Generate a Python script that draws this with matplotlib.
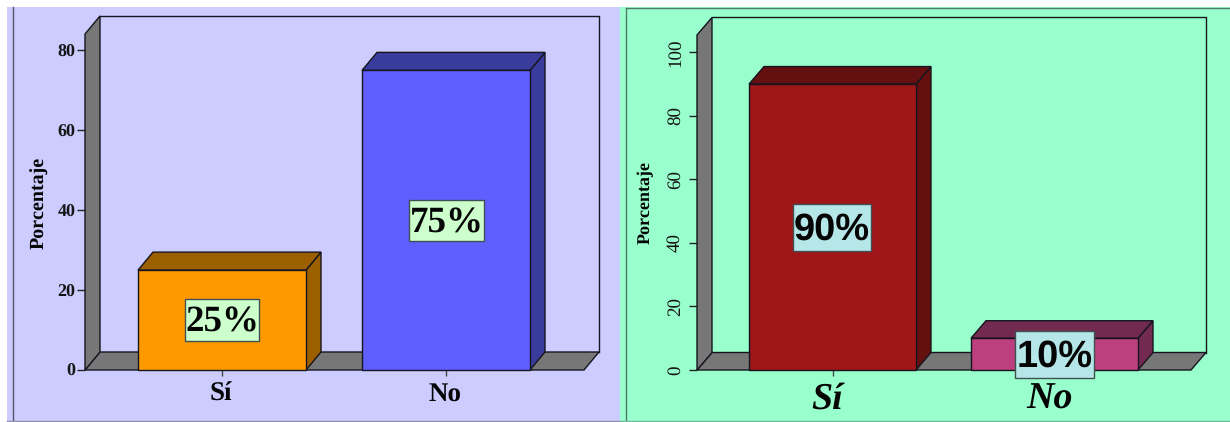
import matplotlib
matplotlib.use("Agg")
import matplotlib.pyplot as plt
from matplotlib.patches import Polygon, Rectangle
from matplotlib.lines import Line2D

plt.rcParams["text.hinting"] = "no_hinting"
plt.rcParams["text.hinting_factor"] = 1

categories = ["Sí", "No"]
left_values = [25, 75]
right_values = [90, 10]
left_labels = ["25%", "75%"]
right_labels = ["90%", "10%"]
left_ticks = [0, 20, 40, 60, 80]
right_ticks = [0, 20, 40, 60, 80, 100]
y_title = "Porcentaje"

W, H = 1230, 422
fig = plt.figure(figsize=(W / 100, H / 100), dpi=100, facecolor="white")


def fx(p):
    return p / W


def fy(p):
    return 1 - p / H


def panel(x0, x1, y0, y1, color):
    fig.add_artist(Rectangle((fx(x0), fy(y1)), fx(x1 - x0), y1 / H - y0 / H,
                             transform=fig.transFigure, fc=color, ec="none", zorder=-5))


def fline(xs, ys, color="#5f6f70", lw=1.0):
    fig.add_artist(Line2D([fx(v) for v in xs], [fy(v) for v in ys],
                          color=color, lw=lw, zorder=-4))


panel(7, 620, 7, 422, "#CCCCFF")
panel(620, 1230, 7, 422, "#99FFCC")
fline([13, 13], [7, 422], "#55556a")
fline([7, 620], [421, 421], "#8f8fb0")
fline([626, 626], [8, 422], "#4f7a66")
fline([626, 1230], [8, 8], "#4f7a66")
fline([620, 1230], [421, 421], "#6fb89a")


def chart(px_left, px_right, px_base, px_top, unit_px, spacing, center0, depth_x, depth_y,
          values, labels, ticks, colors, bar_px, box_size, box_color, label_font, tick_kw, xlab_kw,
          title_kw, title_x, xlab_y, xlab_shift, box_centers, tick_pad):
    ax = fig.add_axes([fx(px_left), fy(px_base), fx(px_right - px_left), (px_base - px_top) / H])
    ax.patch.set_alpha(0)
    ax.set_xlim((px_left - center0) / spacing, (px_right - center0) / spacing)
    ax.set_ylim(0, (px_base - px_top) / unit_px)
    x0, x1 = ax.get_xlim()
    ytop = ax.get_ylim()[1]
    dx = depth_x / spacing
    dy = depth_y / unit_px
    edge = "#15151f"
    kw = dict(ec=edge, lw=1.0, clip_on=False, joinstyle="miter")
    ax.add_patch(Polygon([(x0, 0), (x0 + dx, dy), (x1 + dx, dy), (x1, 0)], fc="#777777", zorder=1, **kw))
    ax.add_patch(Polygon([(x0, 0), (x0, ytop), (x0 + dx, ytop + dy), (x0 + dx, dy)], fc="#777777", zorder=1, **kw))
    ax.plot([x0 + dx, x1 + dx, x1 + dx], [ytop + dy, ytop + dy, dy], color=edge, lw=1.0, clip_on=False, zorder=1)
    bw = bar_px / spacing
    for i, v in enumerate(values):
        f, d = colors[i]
        l, r = i - bw / 2, i + bw / 2
        ax.add_patch(Polygon([(r, 0), (r + dx, dy), (r + dx, v + dy), (r, v)], fc=d, zorder=2, **kw))
        ax.add_patch(Polygon([(l, v), (l + dx, v + dy), (r + dx, v + dy), (r, v)], fc=d, zorder=2, **kw))
        ax.add_patch(Rectangle((l, 0), bw, v, fc=f, zorder=3, **kw))
    for i, v in enumerate(values):
        cx = i + box_centers[i] / spacing
        bwid, bh = box_size[i]
        bwid /= spacing
        bh /= unit_px
        ax.add_patch(Rectangle((cx - bwid / 2, v / 2 - bh / 2), bwid, bh, fc=box_color,
                               ec="#405050", lw=1.0, clip_on=False, zorder=4))
        ax.text(cx, v / 2 + 1.0 / unit_px, labels[i], ha="center", va="center_baseline", color="#050505",
                zorder=5, **label_font)
    for s in ax.spines.values():
        s.set_visible(False)
    ax.set_yticks(ticks)
    ax.set_xticks([0, 1])
    ax.set_xticklabels([])
    ax.tick_params(axis="y", length=5.5, width=1, color="#222222", pad=tick_pad)
    ax.tick_params(axis="x", length=4, width=1, color="#444444")
    for t in ax.get_yticklabels():
        t.set(**tick_kw)
    for i, c in enumerate(categories):
        fig.text(fx(center0 + i * spacing + xlab_shift), fy(xlab_y), c, ha="center", va="center",
                 color="#050505", **xlab_kw)
    fig.text(fx(title_x), fy(203), y_title, rotation=90, ha="center", va="center", color="#050505", **title_kw)


chart(85, 584, 370, 34, 3.995, 224, 222, 15, 18, left_values, left_labels, left_ticks,
      [("#FF9900", "#9C5F00"), ("#5F5FFF", "#393C9C")], 168,
      [(74, 42), (75, 41)], "#CCFFCC",
      dict(family="Liberation Serif", fontweight="bold", fontsize=26.8),
      dict(family="Liberation Serif", fontsize=12.8, fontweight="bold", color="#151515"),
      dict(family="Liberation Serif", fontweight="bold", fontsize=19.5),
      dict(family="Liberation Serif", fontweight="bold", fontsize=14.7),
      39.5, 394, -1, [0, 0.5], 1.5)

chart(697, 1191, 370, 35, 3.177, 222, 832.5, 15, 17.5, right_values, right_labels, right_ticks,
      [("#A01518", "#640F10"), ("#BC3F7E", "#722A50")], 167,
      [(78, 47), (79, 47)], "#B5E6E8",
      dict(family="Liberation Sans", fontweight="bold", fontsize=27),
      dict(family="Liberation Serif", fontsize=13.5, rotation=90, va="center", color="#151515"),
      dict(family="Liberation Serif", fontweight="bold", style="italic", fontsize=27.5),
      dict(family="Liberation Serif", fontweight="bold", fontsize=13.3),
      646, 399, -5, [-0.5, 0], 4)

fig.savefig("out.png", dpi=100)
